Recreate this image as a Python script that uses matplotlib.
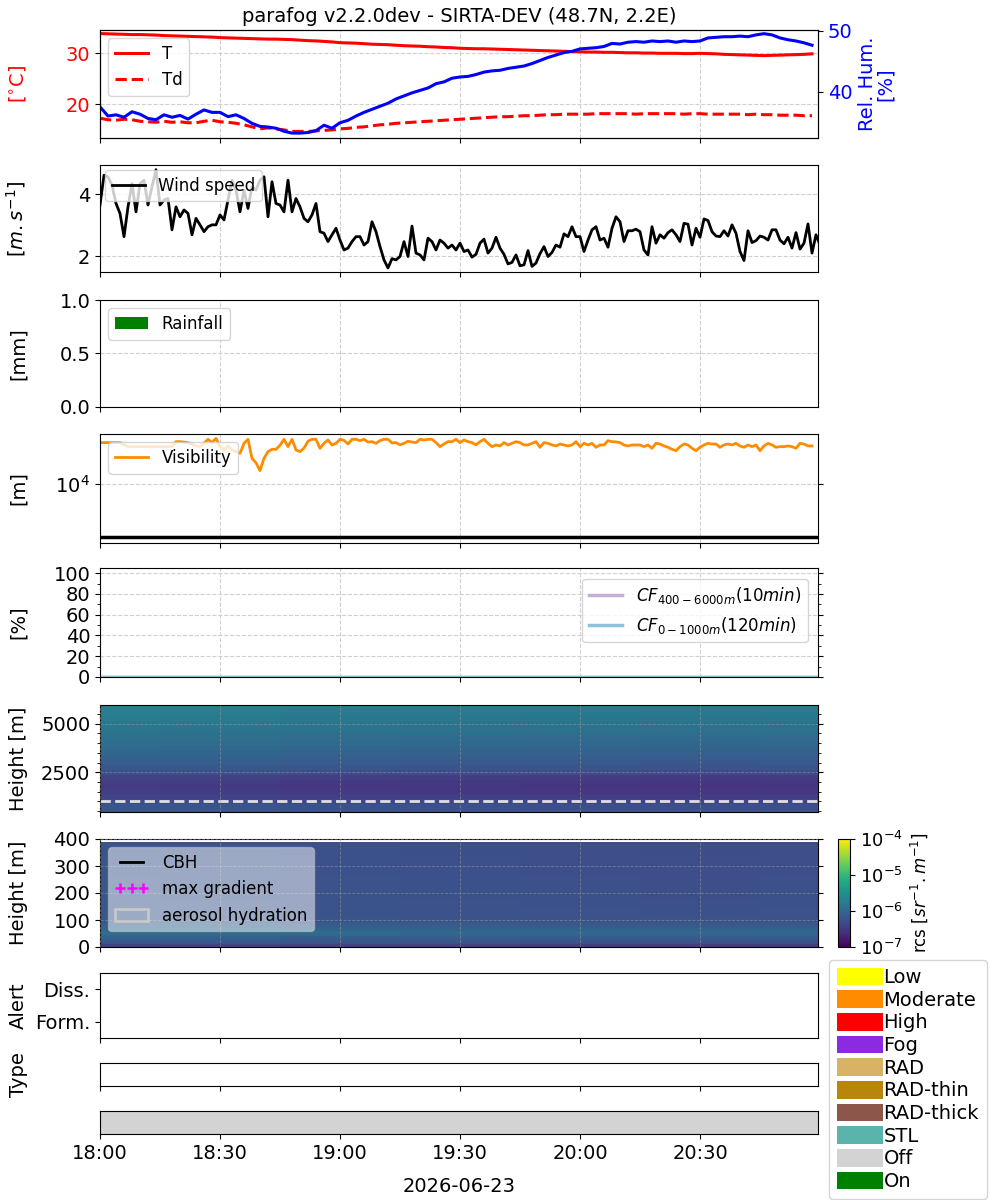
import pandas as pd
import matplotlib
matplotlib.use("Agg")
import matplotlib.pyplot as plt
import matplotlib.dates as mdates
from matplotlib.colors import LogNorm, ListedColormap
from matplotlib.lines import Line2D
from matplotlib.patches import Patch
from matplotlib.ticker import MultipleLocator, NullLocator, FixedLocator

plt.rcParams['font.size'] = 14

# ---- data ----
T0 = pd.Timestamp("2026-06-23 18:00")
TITLE = "parafog v2.2.0dev - SIRTA-DEV (48.7N, 2.2E)"

# 2-min met data
temp = [33.9, 33.85, 33.8, 33.75, 33.7, 33.7, 33.65, 33.6, 33.5, 33.45,
        33.4, 33.35, 33.3, 33.25, 33.2, 33.1, 33.05, 33.0, 32.95, 32.9,
        32.85, 32.8, 32.8, 32.75, 32.7, 32.6, 32.5, 32.45, 32.35, 32.25,
        32.1, 32.05, 32.0, 31.9, 31.8, 31.75, 31.7, 31.6, 31.5, 31.45,
        31.4, 31.3, 31.25, 31.15, 31.1, 31.0, 30.95, 30.9, 30.9, 30.85,
        30.8, 30.75, 30.7, 30.65, 30.6, 30.55, 30.5, 30.45, 30.4, 30.35,
        30.3, 30.25, 30.25, 30.2, 30.2, 30.15, 30.1, 30.1, 30.05, 30.05,
        30.0, 30.0, 30.0, 29.95, 29.95, 30.0, 29.95, 29.9, 29.8, 29.75,
        29.7, 29.65, 29.6, 29.55, 29.6, 29.65, 29.7, 29.75, 29.8, 29.9]
dewpoint = [17.2, 16.9, 16.8, 17.0, 16.9, 16.6, 16.5, 16.4, 16.6, 16.4,
            16.5, 16.3, 16.3, 16.6, 16.8, 16.5, 16.4, 16.2, 15.9, 15.5,
            15.1, 15.3, 15.1, 14.9, 14.6, 14.6, 14.6, 14.7, 14.8, 14.9,
            15.1, 15.2, 15.4, 15.5, 15.7, 15.9, 16.0, 16.2, 16.3, 16.4,
            16.5, 16.6, 16.7, 16.8, 16.9, 17.0, 17.1, 17.2, 17.3, 17.4,
            17.5, 17.5, 17.6, 17.7, 17.7, 17.8, 17.9, 17.9, 18.0, 18.0,
            18.0, 18.0, 18.1, 18.1, 18.1, 18.1, 18.1, 18.0, 18.1, 18.1,
            18.1, 18.1, 18.1, 18.0, 18.1, 18.1, 18.0, 18.0, 18.0, 18.0,
            18.0, 17.9, 18.0, 17.9, 17.9, 17.8, 17.8, 17.8, 17.7, 17.7]
rel_hum = [37.5, 36.0, 36.2, 35.8, 36.7, 36.3, 35.6, 35.4, 36.2, 35.8,
           36.1, 35.5, 36.3, 37.0, 36.6, 36.6, 35.9, 36.2, 35.6, 34.8,
           34.3, 34.2, 34.0, 33.5, 33.2, 33.2, 33.3, 33.6, 34.5, 34.0,
           34.9, 35.3, 36.0, 36.6, 37.1, 37.6, 38.1, 38.8, 39.3, 39.8,
           40.2, 40.6, 41.3, 41.6, 42.2, 42.4, 42.5, 42.8, 43.2, 43.4,
           43.5, 43.8, 44.0, 44.2, 44.6, 45.1, 45.6, 46.0, 46.4, 46.6,
           47.0, 47.1, 47.2, 47.4, 47.9, 47.8, 48.1, 48.2, 48.1, 48.3,
           48.2, 48.3, 48.1, 48.3, 48.2, 48.3, 48.8, 48.9, 49.0, 49.0,
           49.1, 49.0, 49.3, 49.5, 49.3, 48.8, 48.5, 48.3, 48.0, 47.6]

# 1-min wind speed [m/s]
wind = [3.66, 4.62, 4.57, 4.30, 3.71, 3.39, 2.64, 3.60, 4.35, 3.44,
        4.35, 4.46, 3.66, 4.25, 4.80, 3.66, 3.82, 3.87, 2.86, 3.60,
        3.28, 3.50, 3.39, 2.70, 3.23, 3.02, 2.80, 2.96, 3.02, 3.02,
        3.34, 3.18, 3.82, 4.46, 4.14, 3.44, 4.14, 3.55, 4.25, 4.14,
        4.46, 4.57, 3.28, 4.41, 3.71, 3.66, 3.44, 4.46, 3.44, 3.87,
        3.60, 3.23, 3.12, 3.34, 3.71, 2.80, 2.75, 2.48, 2.70, 2.91,
        2.53, 2.21, 2.27, 2.48, 2.64, 2.64, 2.37, 2.48, 3.12, 2.80,
        2.32, 1.89, 1.63, 1.93, 1.89, 2.00, 2.48, 2.00, 2.98, 2.11,
        2.05, 1.89, 2.59, 2.48, 2.21, 2.53, 2.43, 2.27, 2.37, 2.21,
        2.43, 2.16, 2.21,
        1.98, 2.07, 2.43, 2.56, 2.11, 2.27, 2.62, 2.27, 2.07, 1.76,
        1.81, 2.05, 1.70, 1.73, 2.19, 1.68, 1.79, 2.09, 2.32, 2.00,
        2.13, 2.37, 2.30, 2.73, 2.64, 2.96, 2.64, 2.64, 2.16, 2.53,
        2.86, 2.96, 2.53, 2.59, 2.30, 2.91, 3.28, 3.12, 2.48, 2.83,
        2.83, 2.88, 2.80, 2.21, 2.05, 2.96, 2.43, 2.70, 2.59, 2.77,
        2.86, 2.70, 2.48, 3.07, 3.04, 2.37, 2.91, 2.62, 3.21, 3.16,
        2.80, 2.66, 2.64, 2.83, 2.66, 3.02, 2.75, 2.16, 1.87, 2.83,
        2.45, 2.51, 2.66, 2.62, 2.53, 2.86, 2.86, 2.53, 2.41, 2.62,
        2.27, 2.77, 2.24, 2.43, 3.05, 2.11, 2.70, 2.37]

# 1-min visibility [m]
visibility = [17180, 17180, 17180, 17180, 17180, 17180, 16700, 16300, 16250, 16300,
              16300, 16280, 16300, 16300, 16320, 16300, 16300, 16280, 16300, 17400,
              17400, 17300, 17180, 16800, 16450, 16300, 17020, 17940, 17180, 18160,
              16300, 15600, 16450, 15600, 15270, 14930, 17020, 17940, 13990, 13200,
              11910, 13990, 15270, 15740, 15740, 16600, 17940, 16300, 17940, 15600,
              15270, 16000, 17500, 17940, 17940, 15950, 17020, 17780, 16660, 17020,
              17940, 17700, 16870, 17940, 17940, 17630, 17940, 17300, 17400, 17020,
              17630, 17940, 17940, 17100, 17180, 16700, 17020, 17500, 17300, 17180,
              17940, 17780, 17940, 17940, 17180, 16300, 16870, 17400, 17400, 17940,
              17180,
              17780, 17400, 17180, 16660, 17400, 17940, 17020, 16300, 16660, 16450,
              17180, 16660, 17020, 17400, 17180, 16660, 16660, 17020, 17400, 16160,
              17180, 17020, 16660, 16450, 16870, 16660, 16450, 16660, 17400, 16300,
              17020, 16660, 17020, 16160, 16660, 16660, 17630, 17400, 17330, 17180,
              16660, 16450, 16660, 16660, 16660, 16300, 16660, 15950, 17020, 16870,
              16450, 16160, 15740, 15460, 16300, 16870, 16660, 15950, 15460, 16160,
              16660, 17020, 16870, 16870, 16160, 16660, 16870, 16660, 17020, 16450,
              16160, 16660, 16300, 16660, 15460, 16450, 17020, 16660, 16160, 16300,
              16300, 16450, 16300, 15950, 17020, 16870, 16450, 16450]
VIS_THRESHOLD = 5000

# 10-min rain and cloud fraction (all zero)
rain_mm = [0, 0, 0, 0, 0, 0, 0, 0, 0, 0, 0, 0, 0, 0, 0, 0, 0, 0, 0]
cf_high = [0, 0, 0, 0, 0, 0, 0, 0, 0, 0, 0, 0, 0, 0, 0, 0, 0, 0, 0]
cf_low = [0, 0, 0, 0, 0, 0, 0, 0, 0, 0, 0, 0, 0, 0, 0, 0, 0, 0, 0]

# ceilometer rcs, log10 profile (upper range) and time anomaly
up_heights = [500, 750, 1000, 1250, 1500, 1750, 2000, 2250, 2500, 2750, 3000, 3250,
              3500, 3750, 4000, 4250, 4500, 4750, 5000, 5250, 5500, 5750, 6000]
up_log_rcs = [-6.22, -6.26, -6.36, -6.45, -6.5, -6.52, -6.5, -6.46, -6.3, -6.22, -6.15, -6.1,
              -6.06, -6.02, -5.98, -5.95, -5.9, -5.86, -5.83, -5.8, -5.77, -5.74, -5.74]
lidar_minutes = [0, 30, 60, 90, 120, 150, 180]
lidar_time_anom = [0.04, 0.03, 0.0, -0.01, -0.02, -0.03, -0.02]
# lower range (0-400 m)
low_heights = [5, 15, 25, 35, 45, 55, 65, 75, 85, 95, 105, 115, 125, 135, 145,
               155, 165, 175, 185, 195, 205, 215, 225, 235, 245, 255, 265, 275,
               285, 295, 305, 315, 325, 335, 345, 355, 365, 375, 385]
low_log_rcs = [-6.45, -6.25, -6.18, -6.12, -6.0, -5.98, -6.05, -6.12, -6.16, -6.2,
               -6.22, -6.22, -6.23, -6.23, -6.24, -6.24, -6.24, -6.25, -6.25, -6.25,
               -6.25, -6.25, -6.25, -6.25, -6.25, -6.25, -6.26, -6.26, -6.26, -6.26,
               -6.26, -6.26, -6.26, -6.26, -6.27, -6.27, -6.27, -6.27, -6.27]
CF_HEIGHT = 1000

status_minutes = [0, 30, 60, 90, 120, 150, 180]
status_on = [0, 0, 0, 0, 0, 0, 0]

legend_labels = ["Low", "Moderate", "High", "Fog", "RAD", "RAD-thin",
                 "RAD-thick", "STL", "Off", "On"]
legend_colors = ["#ffff00", "#ff8c00", "#ff0000", "#8a2be2", "#d8b365", "#b8860b",
                 "#8c564b", "#5ab4ac", "#d3d3d3", "#008000"]

# ---- time axes ----
t_met = pd.date_range(T0, periods=len(temp), freq="2min")
t_wind = pd.date_range(T0, periods=len(wind), freq="1min")
t_vis = pd.date_range(T0, periods=len(visibility), freq="1min")
t_10 = pd.date_range(T0, periods=len(rain_mm), freq="10min")
t_lid = mdates.date2num(T0 + pd.to_timedelta(lidar_minutes, unit="min"))
t_stat = mdates.date2num(T0 + pd.to_timedelta(status_minutes, unit="min"))

fig = plt.figure(figsize=(10, 12), dpi=100)


def box(top, bottom, left=100, right=818):
    return [left / 1000, 1 - bottom / 1200, (right - left) / 1000, (bottom - top) / 1200]


ax_t = fig.add_axes(box(30, 138))
rows = [(165, 272), (300, 407), (434, 543), (568, 677), (705, 812),
        (839, 947), (973, 1038), (1063, 1086), (1111, 1134)]
axes = [ax_t] + [fig.add_axes(box(a, b), sharex=ax_t) for a, b in rows]
ax_t, ax_w, ax_r, ax_v, ax_cf, ax_l1, ax_l2, ax_al, ax_ty, ax_st = axes

grid_kw = dict(color="#d0d0d0", ls="--", lw=0.8)
for ax in axes[:7]:
    ax.grid(True, **grid_kw)
for ax in axes[:-1]:
    ax.tick_params(labelbottom=False)
for ax in axes:
    ax.yaxis.set_label_coords(-0.1, 0.5)

# temperature / humidity
ax_t.plot(t_met, temp, color="red", lw=2.2, label="T")
ax_t.plot(t_met, dewpoint, color="red", lw=2.2, ls="--", label="Td")
ax_t.set_ylim(13.3, 34.6)
ax_t.set_yticks([20, 30])
ax_t.tick_params(axis="y", labelcolor="red")
ax_t.set_ylabel(r"[$^{\circ}$C]", color="red")
ax_t.legend(loc="upper left", fontsize=12)
ax_t.set_title(TITLE, fontsize=14)
ax_rh = ax_t.twinx()
ax_rh.plot(t_met, rel_hum, color="blue", lw=2.2)
ax_rh.set_ylim(32.4, 50.1)
ax_rh.set_yticks([40, 50])
ax_rh.tick_params(axis="y", labelcolor="blue")
ax_rh.set_ylabel("Rel. Hum.\n[%]", color="blue", linespacing=0.9)
ax_rh.yaxis.set_label_coords(1.056, 0.5)

# wind
ax_w.plot(t_wind, wind, color="black", lw=2, label="Wind speed")
ax_w.set_ylim(1.5, 4.95)
ax_w.set_yticks([2, 4])
ax_w.set_ylabel(r"[$m.s^{-1}$]")
ax_w.legend(loc="upper left", fontsize=12, borderaxespad=0.3)

# rain
ax_r.bar(t_10, rain_mm, width=0.006, color="green", label="Rainfall")
ax_r.set_ylim(0, 1)
ax_r.set_yticks([0, 0.5, 1.0])
ax_r.set_ylabel("[mm]")
ax_r.legend(loc="upper left", fontsize=12)

# visibility
ax_v.plot(t_vis, visibility, color="darkorange", lw=2, label="Visibility")
ax_v.axhline(VIS_THRESHOLD, color="black", lw=2.5)
ax_v.set_yscale("log")
ax_v.set_ylim(4624, 19230)
ax_v.yaxis.set_major_locator(FixedLocator([1e4]))
ax_v.yaxis.set_minor_locator(NullLocator())
ax_v.tick_params(axis="y", right=True)
ax_v.set_ylabel("[m]")
ax_v.legend(loc="upper left", fontsize=12)

# cloud fraction
ax_cf.plot(t_10, cf_high, color="#c5b0d5", lw=2.5, label=r"$CF_{400-6000m} (10min)$")
ax_cf.plot(t_10, cf_low, color="#8ec1da", lw=2.5, label=r"$CF_{0-1000m} (120min)$")
ax_cf.set_ylim(0, 105)
ax_cf.set_yticks([0, 20, 40, 60, 80, 100])
ax_cf.yaxis.set_minor_locator(MultipleLocator(10))
ax_cf.tick_params(axis="y", which="both", right=True)
ax_cf.set_ylabel("[%]")
ax_cf.legend(loc="upper right", fontsize=12, bbox_to_anchor=(0.997, 0.98))

# ceilometer
norm = LogNorm(1e-7, 1e-4)
up_rcs = [[10 ** (p + a) for a in lidar_time_anom] for p in up_log_rcs]
ax_l1.pcolormesh(t_lid, up_heights, up_rcs, cmap="viridis", norm=norm, shading="nearest")
ax_l1.axhline(CF_HEIGHT, color="#e0e0e0", ls="--", lw=2)
ax_l1.set_ylim(455, 5960)
ax_l1.set_yticks([2500, 5000])
ax_l1.yaxis.set_minor_locator(MultipleLocator(500))
ax_l1.tick_params(axis="y", which="both", right=True)
ax_l1.set_ylabel("Height [m]")
ax_l1.set_axisbelow(False)
ax_l1.grid(True, color="#9a9a9a", ls="--", lw=0.6, alpha=0.6)

low_rcs = [[10 ** (p + a) for a in lidar_time_anom] for p in low_log_rcs]
mesh = ax_l2.pcolormesh(t_lid, low_heights, low_rcs, cmap="viridis", norm=norm, shading="nearest")
ax_l2.set_ylim(0, 400)
ax_l2.set_yticks([0, 100, 200, 300, 400])
ax_l2.tick_params(axis="y", right=True)
ax_l2.set_ylabel("Height [m]")
ax_l2.set_axisbelow(False)
ax_l2.grid(True, color="#9a9a9a", ls="--", lw=0.6, alpha=0.6)
handles = [Line2D([], [], color="black", lw=2, label="CBH"),
           Line2D([], [], color="magenta", ls="none", marker="+", ms=7, mew=1.8, label="max gradient"),
           Patch(facecolor="none", edgecolor="#c8c8c8", lw=2, label="aerosol hydration")]
ax_l2.legend(handles=handles, loc="upper left", fontsize=12, numpoints=3, framealpha=0.5)

cax = fig.add_axes([838 / 1000, 1 - 947 / 1200, 12 / 1000, 108 / 1200])
cb = fig.colorbar(mesh, cax=cax)
cb.set_ticks([1e-7, 1e-6, 1e-5, 1e-4])
cb.set_label(r"rcs [$sr^{-1}.m^{-1}$]", fontsize=12)
cb.ax.tick_params(labelsize=13)

# alert / type / status
ax_al.set_ylim(-0.5, 1.5)
ax_al.set_yticks([0, 1])
ax_al.set_yticklabels(["Form.", "Diss."])
ax_al.set_ylabel("Alert")
ax_ty.set_yticks([])
ax_ty.set_ylabel("Type")
ax_st.pcolormesh(t_stat, [0, 1], [status_on, status_on], cmap=ListedColormap(["#d3d3d3", "#008000"]),
                 vmin=0, vmax=1, shading="nearest")
ax_st.set_ylim(0, 1)
ax_st.set_yticks([])

ax_t.set_xlim(T0, T0 + pd.Timedelta(minutes=179.5))
ax_st.xaxis.set_major_locator(mdates.MinuteLocator(byminute=[0, 30]))
ax_st.xaxis.set_major_formatter(mdates.DateFormatter("%H:%M"))
ax_st.set_xlabel("2026-06-23", labelpad=10)

fig.legend(handles=[Patch(facecolor=c, label=l) for l, c in zip(legend_labels, legend_colors)],
           loc="upper left", bbox_to_anchor=(0.829, 0.2), borderaxespad=0, fontsize=14,
           labelspacing=0.17, handlelength=2.4, handleheight=1.0, handletextpad=0.0)

fig.savefig("out.png", dpi=100)
